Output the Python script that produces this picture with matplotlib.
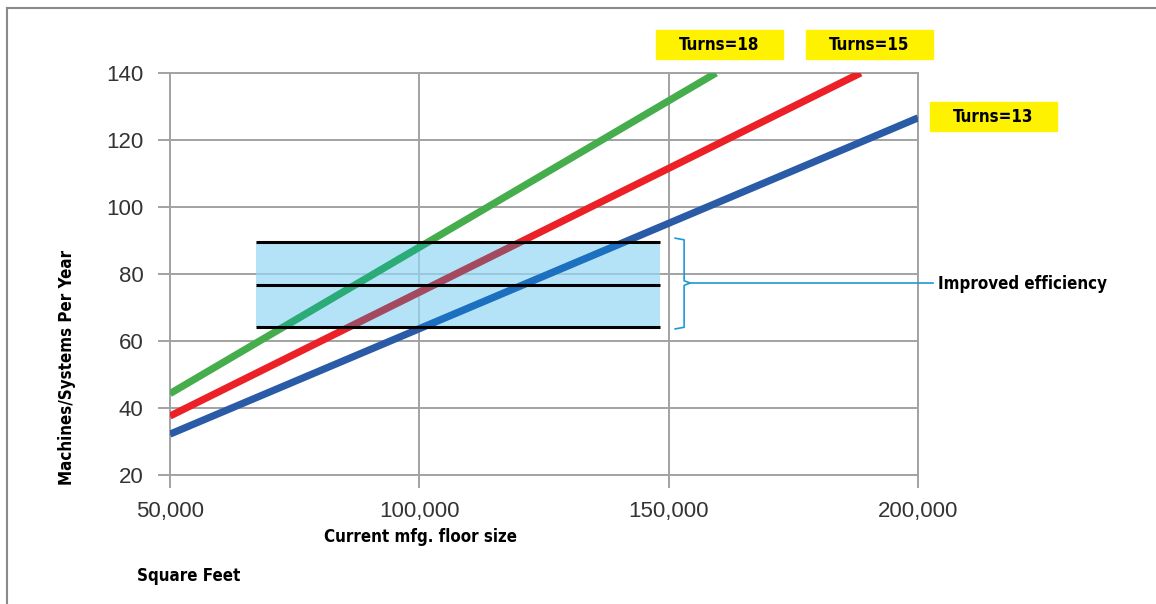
import matplotlib
matplotlib.use("Agg")
import matplotlib.pyplot as plt
from matplotlib.patches import Rectangle
from matplotlib.lines import Line2D
from matplotlib.font_manager import FontProperties, findfont

# veriler
x_green = [50000, 159500]
y_green = [44.3, 140]
x_red = [50000, 188500]
y_red = [37.6, 140]
x_blue = [50000, 200000]
y_blue = [32.2, 126.6]

band_x = [67200, 148300]
band_levels = [64.2, 76.8, 89.5]

x_ticks = [50000, 100000, 150000, 200000]
x_labels = ["50,000", "100,000", "150,000", "200,000"]
y_ticks = [20, 40, 60, 80, 100, 120, 140]

turn_labels = ["Turns=18", "Turns=15", "Turns=13"]

# dar kalın yazı tipi (DejaVu Sans Condensed Bold)
dar_yol = findfont(FontProperties(family="DejaVu Sans", stretch="condensed", weight="bold"))
dar = FontProperties(fname=dar_yol, size=12.2)

W, H = 1156, 604
fig = plt.figure(figsize=(W / 100, H / 100), dpi=100)
ax = fig.add_axes([170 / W, 1 - 475 / H, 748 / W, 402 / H])

gri = "#a2a2a2"
seriler = [
    (x_green, y_green, "#45ad4b", "#2bab78"),
    (x_red, y_red, "#ec2027", "#a44a60"),
    (x_blue, y_blue, "#2a5ba7", "#1d6fc0"),
]
bant = Rectangle((band_x[0], band_levels[0]), band_x[1] - band_x[0],
                 band_levels[-1] - band_levels[0], transform=ax.transData,
                 facecolor="#94d8f5", alpha=0.7, lw=0, zorder=4)
ax.add_patch(bant)
for xs, ys, renk, ic_renk in seriler:
    ax.plot(xs, ys, color=renk, lw=5.2, solid_capstyle="butt", zorder=3)
    # bandın içindeki kısım başka renkte görünüyor
    l, = ax.plot(xs, ys, color=ic_renk, lw=5.2, solid_capstyle="butt", zorder=4.5)
    l.set_clip_path(bant)

for lv in band_levels:
    ax.plot(band_x, [lv, lv], color="black", lw=2.2, zorder=5, solid_capstyle="butt")

ax.set_xlim(50000, 200000)
ax.set_ylim(20, 140)
ax.set_xticks(x_ticks)
ax.set_xticklabels(x_labels)
ax.set_yticks(y_ticks)
ax.grid(True, color=gri, lw=1.4, zorder=1)
ax.set_axisbelow(True)
for s in ax.spines.values():
    s.set_color(gri)
    s.set_linewidth(1.4)
ax.tick_params(length=9, width=1.4, color=gri, labelsize=16, labelcolor="#333333", pad=10)
for t in ax.get_xticklabels() + ax.get_yticklabels():
    t.set_family("Liberation Sans")

# süslü parantez
bc = "#1a9ad6"
bx = [151300, 153100, 153100, 154300, 153100, 153100, 151300]
by = [90.7, 90.2, 78.0, 77.3, 76.6, 64.1, 63.6]
ax.plot(bx, by, color=bc, lw=1.2, clip_on=False, zorder=6)
ax.plot([154300, 203000], [77.3, 77.3], color=bc, lw=1.2, clip_on=False, zorder=6)
fig.text(938 / W, 1 - 284 / H, "Improved efficiency", fontproperties=dar,
         va="center", ha="left")

# sarı kutular
kutular = [(656, 30), (806, 30), (930, 102)]
for (px, py), lab in zip(kutular, turn_labels):
    fig.patches.append(Rectangle((px / W, 1 - (py + 29) / H), 127 / W, 29 / H,
                                 transform=fig.transFigure, color="#fff200", zorder=1))
    fig.text((px + 63.5) / W, 1 - (py + 14.5) / H, lab, fontproperties=dar,
             ha="center", va="center")

fig.text(67 / W, 1 - 367 / H, "Machines/Systems Per Year", fontproperties=dar,
         rotation=90, ha="center", va="center")
fig.text(324 / W, 1 - 537 / H, "Current mfg. floor size", fontproperties=dar,
         ha="left", va="center")
fig.text(137 / W, 1 - 576 / H, "Square Feet", fontproperties=dar,
         ha="left", va="center")

# çerçeve
fig.lines.append(Line2D([7 / W, 7 / W], [0, 1 - 8 / H], transform=fig.transFigure, color="#8a8a8a", lw=1.5))
fig.lines.append(Line2D([7 / W, 1], [1 - 8 / H, 1 - 8 / H], transform=fig.transFigure, color="#8a8a8a", lw=1.5))

fig.savefig("out.png", dpi=100)
